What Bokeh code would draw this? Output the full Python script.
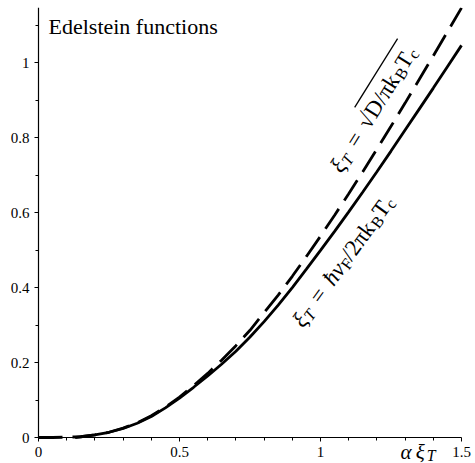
import math
from bokeh.plotting import figure
from bokeh.models import Label, FixedTicker, NumeralTickFormatter, Range1d
from bokeh.embed import file_html
from bokeh.resources import INLINE

# ---- data ----
x_solid = [0.13, 0.15, 0.20, 0.25, 0.30, 0.35, 0.40, 0.45, 0.50, 0.55, 0.60, 0.65,
           0.70, 0.75, 0.80, 0.85, 0.90, 0.95, 1.00, 1.05, 1.10, 1.15, 1.20, 1.25,
           1.30, 1.35, 1.40, 1.45, 1.50]
y_solid = [0.000, 0.002, 0.007, 0.014, 0.024, 0.038, 0.056, 0.079, 0.105, 0.134, 0.164, 0.196,
           0.230, 0.268, 0.309, 0.353, 0.400, 0.449, 0.499, 0.550, 0.602, 0.655, 0.709, 0.764,
           0.820, 0.876, 0.932, 0.989, 1.046]

x_dash = [0.00, 0.05, 0.10, 0.15, 0.20, 0.25, 0.30, 0.35, 0.40, 0.45, 0.50, 0.55, 0.60,
          0.65, 0.70, 0.75, 0.80, 0.85, 0.90, 0.95, 1.00, 1.05, 1.10, 1.15, 1.20, 1.25,
          1.30, 1.35, 1.40, 1.45, 1.50]
y_dash = [0.000, 0.000, 0.001, 0.002, 0.007, 0.014, 0.025, 0.039, 0.058, 0.081, 0.108, 0.138, 0.171,
          0.207, 0.245, 0.286, 0.333, 0.380, 0.430, 0.483, 0.537, 0.593, 0.650, 0.709, 0.769, 0.830,
          0.892, 0.955, 1.018, 1.082, 1.146]

x_ticks = [0, 0.5, 1.0, 1.5]
x_minor = [0.1, 0.2, 0.3, 0.4, 0.6, 0.7, 0.8, 0.9, 1.1, 1.2, 1.3, 1.4]
y_ticks = [0, 0.2, 0.4, 0.6, 0.8, 1.0]
y_minor = [0.1, 0.3, 0.5, 0.7, 0.9, 1.1]

title_text = "Edelstein functions"

# ---- figure ----
W, H = 475, 463
XLO, XHI = 0.0, 1.5          # axis extent
YLO, YHI = 0.0, 1.147
PX_X, PX_Y = 282.0, 375.0    # pixels per data unit
LEFT_PAD, RIGHT_PAD, BOTTOM_PAD, BT = 38, 14, 26, 7
x_range = Range1d(XLO - LEFT_PAD / PX_X, XHI + RIGHT_PAD / PX_X)
y_range = Range1d(YLO - BOTTOM_PAD / PX_Y, YHI)

p = figure(width=W, height=H, x_range=x_range, y_range=y_range,
           output_backend="svg", toolbar_location=None,
           min_border_left=0, min_border_right=0, min_border_top=BT, min_border_bottom=0)
p.outline_line_color = None
p.grid.visible = False
p.background_fill_color = "white"

p.xaxis.ticker = FixedTicker(ticks=x_ticks, minor_ticks=x_minor)
p.yaxis.ticker = FixedTicker(ticks=y_ticks, minor_ticks=y_minor)
p.xaxis.fixed_location = 0
p.yaxis.fixed_location = 0
p.xaxis.bounds = (XLO, XHI)
p.yaxis.bounds = (YLO, YHI)
for ax in (p.xaxis[0], p.yaxis[0]):
    ax.formatter = NumeralTickFormatter(format="0.[0]")
    ax.axis_line_color = "black"
    ax.axis_line_width = 1.2
    ax.major_tick_line_color = "black"
    ax.minor_tick_line_color = "black"
    ax.major_tick_in = 0
    ax.major_tick_out = 4
    ax.minor_tick_in = 0
    ax.minor_tick_out = 3
    ax.major_label_text_font = "Liberation Serif"
    ax.major_label_text_font_size = "15px"
    ax.major_label_text_color = "black"
    ax.major_label_standoff = 5
    ax.axis_label_standoff = 0

p.line(x_dash, y_dash, line_color="black", line_width=2.8, line_dash="24 10")
p.line(x_solid, y_solid, line_color="black", line_width=2.8)

FONT = "Liberation Serif"
WID = {"ξ": 0.47, "T": 0.60, "=": 0.564, " ": 0.25, "√": 0.55, "D": 0.722, "/": 0.278,
       "π": 0.55, "k": 0.5, "B": 0.667, "c": 0.444, "ħ": 0.5, "v": 0.46, "F": 0.556,
       "2": 0.5, "α": 0.6}


def width_em(t):
    return sum(WID.get(ch, 0.5) for ch in t)


def math_label(x0, y0, deg, pieces, size, sub_scale=0.7):
    """pieces: (text, style, is_sub, extra_em_before, extra_em_after)"""
    th = math.radians(deg)
    c, s = math.cos(th), math.sin(th)
    pos = 0.0
    marks = []
    for txt, style, sub, pre, post in pieces:
        fs = size * sub_scale if sub else size
        shift = -0.2 * size if sub else 0.0
        pos += pre * size
        dx = pos * c - shift * s
        dy = pos * s + shift * c
        p.add_layout(Label(x=x0 + dx / PX_X, y=y0 + dy / PX_Y, text=txt, angle=th,
                           text_font=FONT, text_font_size=f"{fs:.1f}px",
                           text_font_style=style, text_color="black",
                           text_baseline="alphabetic", text_align="left"))
        marks.append(pos)
        pos += width_em(txt) * fs + post * size
    marks.append(pos)
    return marks


def overline(x0, y0, deg, a, b, h):
    th = math.radians(deg)
    c, s = math.cos(th), math.sin(th)
    xs = [x0 + (a * c - h * s) / PX_X, x0 + (b * c - h * s) / PX_X]
    ys = [y0 + (a * s + h * c) / PX_Y, y0 + (b * s + h * c) / PX_Y]
    p.line(xs, ys, line_color="black", line_width=1.3)


S = 23
# dashed-curve label: xi_T = sqrt(D / pi k_B T_c)
dash_pieces = [("ξ", "italic", False, 0, 0), ("T", "italic", True, 0, 0),
               ("=", "normal", False, 0.4, 0.4), ("√", "normal", False, 0, 0),
               ("D/πk", "normal", False, 0, 0), ("B", "normal", True, 0, 0),
               ("T", "normal", False, 0, 0), ("c", "normal", True, 0, 0.05)]
DX0, DY0, DANG = 1.053, 0.713, 58
mk = math_label(DX0, DY0, DANG, dash_pieces, S)
overline(DX0, DY0, DANG, mk[4] - 1, mk[-1], 0.74 * S)

# solid-curve label: xi_T = hbar v_F / 2 pi k_B T_c
solid_pieces = [("ξ", "italic", False, 0, 0), ("T", "italic", True, 0, 0),
                ("=", "normal", False, 0.4, 0.4), ("ħv", "italic", False, 0, 0),
                ("F", "normal", True, 0, 0), ("/2πk", "normal", False, 0, 0),
                ("B", "normal", True, 0, 0), ("T", "normal", False, 0, 0),
                ("c", "normal", True, 0, 0)]
math_label(0.917, 0.301, 54, solid_pieces, S)

# x axis label  alpha xi_T  near the right end (below the axis line)
math_label(1.284, -14 / PX_Y, 0,
           [("α", "italic", False, 0, 0), ("ξ", "italic", False, 0.12, 0),
            ("T", "italic", True, 0.05, 0)], 21, sub_scale=0.75)

# title inside the plot
p.add_layout(Label(x=10 / PX_X, y=YHI - 19 / PX_Y, text=title_text, text_font=FONT,
                   text_font_size="22px", text_color="black", text_baseline="alphabetic",
                   text_align="left"))

open("out.html", "w").write(file_html(p, INLINE))
